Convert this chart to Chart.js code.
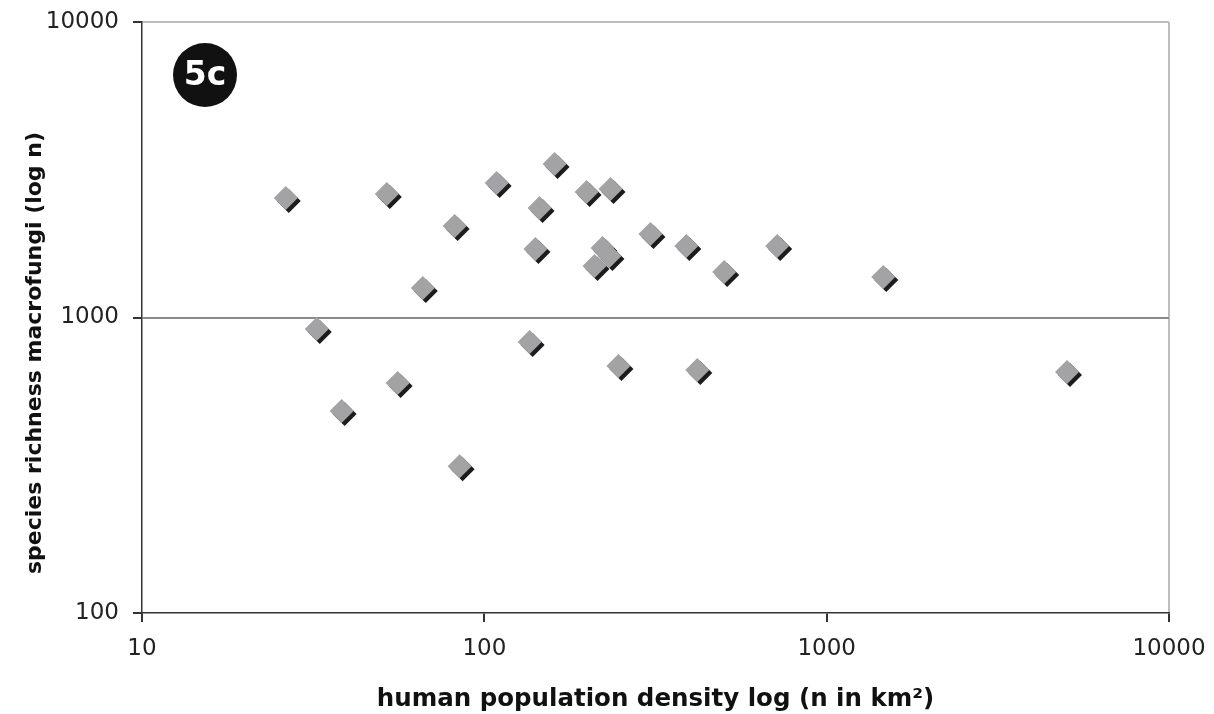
<!DOCTYPE html>
<html>
<head>
<meta charset="utf-8">
<script src="https://cdn.jsdelivr.net/npm/chart.js@4"></script>
<style>
  html, body { margin: 0; padding: 0; background: #fff; }
  #wrap { width: 1214px; height: 714px; }
</style>
</head>
<body>
<div id="wrap"><canvas id="grafico" width="1214" height="714"></canvas></div>
<script>
// densidade populacional (n por km2) e riqueza de espécies
const densidade = [26.3, 32.4, 38.3, 51.9, 55.8, 66.1, 81.9, 84.7, 108.6, 135.6, 141, 145, 160.4,
    198.9, 209.8, 221.4, 232, 233.6, 246.5, 305.6, 389, 419, 502, 717, 1463, 5036];
const riqueza = [2537, 914, 483, 2618, 600, 1259, 2040, 314, 2851, 826, 1705, 2348, 3308,
    2660, 1494, 1719, 1615, 2722, 685, 1917, 1746, 664, 1426, 1746, 1371, 654];
const xTicks = [10, 100, 1000, 10000];
const yTicks = [100, 1000, 10000];
const rotulo = '5c';
const tituloY = 'species richness macrofungi (log n)';

const pontos = densidade.map((d, i) => ({ x: d, y: riqueza[i] }));

// sombra escura dos losangos
const sombra = {
    id: 'sombra',
    beforeDatasetDraw(chart) {
        const ctx = chart.ctx;
        ctx.save();
        ctx.shadowColor = '#1c1c1c';
        ctx.shadowOffsetX = 3;
        ctx.shadowOffsetY = 3;
        ctx.shadowBlur = 0;
    },
    afterDatasetDraw(chart) {
        chart.ctx.restore();
    }
};

// selo "5c" e título do eixo y (deslocado para baixo como no original)
const extras = {
    id: 'extras',
    afterDraw(chart) {
        const ctx = chart.ctx;
        ctx.save();
        ctx.fillStyle = '#111';
        ctx.beginPath();
        ctx.arc(205, 75, 32, 0, Math.PI * 2);
        ctx.fill();
        ctx.fillStyle = '#fff';
        ctx.font = "bold 33px 'DejaVu Sans', sans-serif";
        ctx.textAlign = 'center';
        ctx.textBaseline = 'middle';
        ctx.fillText(rotulo, 205, 76);
        ctx.restore();

        ctx.save();
        ctx.translate(35, 353);
        ctx.rotate(-Math.PI / 2);
        ctx.fillStyle = '#111';
        ctx.font = "bold 22px 'DejaVu Sans', sans-serif";
        ctx.textAlign = 'center';
        ctx.textBaseline = 'middle';
        ctx.fillText(tituloY, 0, 0);
        ctx.restore();
    }
};

const fonteTicks = { size: 23, family: "'DejaVu Sans', sans-serif" };
const fonteTitulo = { size: 24.5, weight: 'bold', family: "'DejaVu Sans', sans-serif" };

new Chart(document.getElementById('grafico'), {
    type: 'scatter',
    data: {
        datasets: [{
            data: pontos,
            pointStyle: 'rectRot',
            pointRadius: 12,
            pointHoverRadius: 12,
            backgroundColor: '#a3a3a5',
            borderWidth: 0
        }]
    },
    options: {
        responsive: false,
        animation: false,
        layout: { padding: { top: 22, right: 45, left: 0, bottom: 0 } },
        plugins: { legend: { display: false }, tooltip: { enabled: false } },
        scales: {
            x: {
                type: 'logarithmic',
                min: 10,
                max: 10000,
                afterBuildTicks: s => { s.ticks = xTicks.map(v => ({ value: v })); },
                afterFit: s => { s.height = 101; s.paddingLeft = 0; s.paddingRight = 0; },
                border: { color: '#333', width: 1.5 },
                grid: {
                    color: c => c.tick && c.tick.value === 10000 ? '#bdbdbd' : 'rgba(0,0,0,0)',
                    lineWidth: 2,
                    tickColor: '#333',
                    tickLength: 9,
                    drawOnChartArea: true
                },
                ticks: {
                    color: '#222',
                    font: fonteTicks,
                    padding: 13,
                    maxRotation: 0,
                    callback: v => String(v)
                },
                title: {
                    display: true,
                    text: 'human population density log (n in km²)',
                    color: '#111',
                    font: fonteTitulo,
                    padding: { top: 4, bottom: 0 }
                }
            },
            y: {
                type: 'logarithmic',
                min: 100,
                max: 10000,
                afterBuildTicks: s => { s.ticks = yTicks.map(v => ({ value: v })); },
                afterFit: s => { s.width = 142; s.paddingTop = 0; s.paddingBottom = 0; },
                border: { color: '#333', width: 1.5 },
                grid: {
                    color: c => {
                        if (!c.tick) return 'rgba(0,0,0,0)';
                        if (c.tick.value === 1000) return '#8a8a8a';
                        if (c.tick.value === 10000) return '#bdbdbd';
                        return 'rgba(0,0,0,0)';
                    },
                    lineWidth: 2,
                    tickColor: '#333',
                    tickLength: 9
                },
                ticks: {
                    color: '#222',
                    font: fonteTicks,
                    padding: 14,
                    callback: v => String(v)
                },
                title: { display: false }
            }
        }
    },
    plugins: [sombra, extras]
});
</script>
</body>
</html>
